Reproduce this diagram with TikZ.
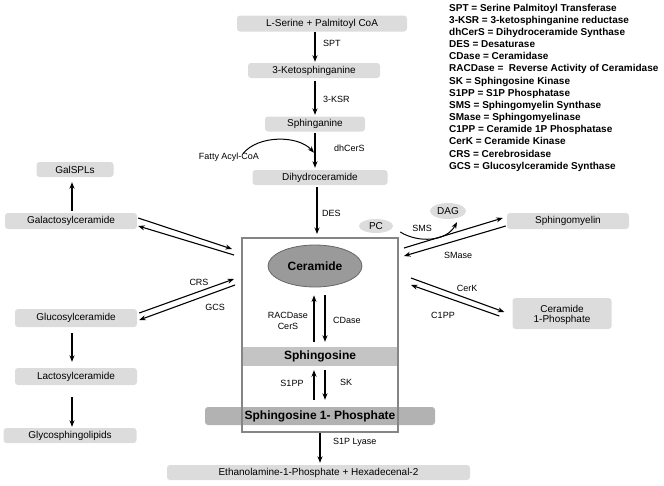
\documentclass[tikz,border=0pt]{standalone}
\usepackage{fontspec}
\setmainfont{Liberation Sans}
\usetikzlibrary{arrows.meta,shapes.geometric}
\definecolor{boxgray}{HTML}{DCDCDC}
\definecolor{sphgray}{HTML}{C4C4C4}
\definecolor{sopgray}{HTML}{B2B2B2}
\definecolor{cergray}{HTML}{9A9A9A}
\definecolor{cerline}{HTML}{666666}
\definecolor{frame}{HTML}{858585}
\newcommand\boxfont{\fontsize{10}{11}\selectfont}
\newcommand\enzfont{\fontsize{9}{10}\selectfont}
\newcommand\bigbold{\fontsize{12}{13}\selectfont\bfseries}
\newcommand\legfont{\fontsize{10}{12}\selectfont\bfseries}
\tikzset{
  lbox/.style={fill=boxgray, rounded corners=3pt, inner sep=0pt, font=\boxfont, align=center},
  arr/.style={-{Stealth[length=6.5pt,width=5pt]}, line width=1.1pt},
  thinarr/.style={-{Stealth[length=6.5pt,width=5pt]}, line width=1pt},
  enz/.style={font=\enzfont, inner sep=0pt},
  legline/.style={font=\legfont, inner sep=0pt, anchor=base west}
}
\begin{document}
\begin{tikzpicture}[x=1pt,y=-1pt]
\useasboundingbox (0,0) rectangle (664,485);
% main column boxes
\node[lbox, minimum width=170, minimum height=16] (ser) at (322,23.5) {L-Serine + Palmitoyl CoA};
\node[lbox, minimum width=132, minimum height=15] (ket) at (314,70.5) {3-Ketosphinganine};
\node[lbox, minimum width=100, minimum height=15] (sph) at (315,124) {Sphinganine};
\node[lbox, minimum width=135, minimum height=15] (dih) at (320,177.5) {Dihydroceramide};
% left boxes
\node[lbox, minimum width=77, minimum height=15] (galspl) at (75,169.5) {GalSPLs};
\node[lbox, minimum width=132, minimum height=16] (gal) at (71,221) {Galactosylceramide};
\node[lbox, minimum width=122, minimum height=18] (glc) at (76,318) {Glucosylceramide};
\node[lbox, minimum width=122, minimum height=17] (lac) at (76,376.5) {Lactosylceramide};
\node[lbox, minimum width=133, minimum height=15] (gly) at (70,435.5) {Glycosphingolipids};
% right boxes
\node[lbox, minimum width=122, minimum height=16] (smy) at (568,221) {Sphingomyelin};
\node[lbox, minimum width=99, minimum height=31, text depth=0pt] (c1p) at (562,313.5) {Ceramide\\[-1pt]1-Phosphate};
\node[lbox, minimum width=303, minimum height=15] (eth) at (318.5,472.5) {Ethanolamine-1-Phosphate + Hexadecenal-2};
% ellipses
\node[ellipse, fill=boxgray, minimum width=34, minimum height=14, inner sep=0pt, font=\boxfont] (pc) at (376,226) {PC};
\node[ellipse, fill=boxgray, minimum width=36, minimum height=16, inner sep=0pt, font=\boxfont] (dag) at (448,211) {DAG};
% central compartment
\node[ellipse, fill=cergray, draw=cerline, line width=0.8pt, minimum width=94, minimum height=42, inner sep=0pt, font=\bigbold] (cer) at (315,266) {Ceramide};
\node[fill=sphgray, minimum width=156, minimum height=19, inner sep=0pt, font=\bigbold] (sgo) at (320,356.5) {Sphingosine};
\node[fill=sopgray, rounded corners=3pt, minimum width=230, minimum height=18, inner sep=0pt, font=\bigbold] (s1p) at (320,416) {Sphingosine 1- Phosphate};
\node[draw=frame, line width=2pt, minimum width=156, minimum height=194, inner sep=0pt] (cbox) at (320,335) {};
% main vertical arrows
\draw[arr] ([shift={(-7,0.5)}]ser.south) -- ([shift={(1,-1)}]ket.north);
\draw[arr] ([shift={(1,3)}]ket.south) -- ([shift={(0,-1.5)}]sph.north);
\draw[arr] ([shift={(0,1.5)}]sph.south) -- ([shift={(-5,-2)}]dih.north);
\draw[arr] ([shift={(-3,2)}]dih.south) -- ([shift={(-3,-3)}]cbox.north);
\node[enz, anchor=west] (lspt) at (323,43.5) {SPT};
\node[enz, anchor=west] (lksr) at (323,99) {3-KSR};
\node[enz, anchor=west] (ldh) at (334,148) {dhCerS};
\node[enz, anchor=west] (ldes) at (322,213) {DES};
% fatty acyl CoA
\node[enz] (fat) at (229,157.5) {Fatty Acyl-CoA};
\draw[thinarr] ([shift={(14,0.5)}]fat.north) .. controls (258,135) and (298,135) .. ([shift={(-1,21)}]sph.south);
% ceramide <-> sphingosine
\draw[arr] ([shift={(-6,-5)}]sgo.north) -- ([shift={(-1,8)}]cer.south);
\draw[arr] ([shift={(10,8)}]cer.south) -- ([shift={(5,-5)}]sgo.north);
\node[enz] (lrac) at (288,315) {RACDase};
\node[enz] (lcers) at (288,326.5) {CerS};
\node[enz] (lcd) at (347,320) {CDase};
% sphingosine <-> S1P
\draw[arr] ([shift={(-6,-7)}]s1p.north) -- ([shift={(-6,4)}]sgo.south);
\draw[arr] ([shift={(5,4)}]sgo.south) -- ([shift={(5,-7)}]s1p.north);
\node[enz] (ls1pp) at (292,383) {S1PP};
\node[enz] (lsk) at (346,382) {SK};
% S1P lyase
\draw[arr] (cbox.south) -- ([shift={(1.5,-2)}]eth.north);
\node[enz, anchor=west] (llya) at (333,442) {S1P Lyase};
% left side
\draw[arr] ([shift={(1,-2)}]gal.north) -- ([shift={(-3,5)}]galspl.south);
\draw[arr] ([shift={(1,-3)}]gal.east) -- ([shift={(-9,12)}]cbox.north west);
\draw[arr] ([shift={(-7,18)}]cbox.north west) -- ([shift={(1,5)}]gal.east);
\draw[arr] ([shift={(2,-5)}]glc.east) -- ([shift={(-7,42)}]cbox.north west);
\draw[arr] ([shift={(-6,48)}]cbox.north west) -- ([shift={(2,2)}]glc.east);
\node[enz] (lcrs) at (199,282) {CRS};
\node[enz] (lgcs) at (215,307.5) {GCS};
\draw[arr] ([shift={(-4,6)}]glc.south) -- ([shift={(-4,-6)}]lac.north);
\draw[arr] ([shift={(-4,12)}]lac.south) -- ([shift={(2,-1)}]gly.north);
% right side
\draw[thinarr] ([shift={(7,6)}]pc.east) .. controls (418,243) and (446,242) .. ([shift={(9,3)}]dag.south);
\node[enz] (lsms) at (422,228.5) {SMS};
\draw[arr] ([shift={(5,11)}]cbox.north east) -- ([shift={(-4,-3)}]smy.west);
\draw[arr] ([shift={(-1,5)}]smy.west) -- ([shift={(5,19)}]cbox.north east);
\node[enz] (lsmase) at (458,255) {SMase};
\draw[arr] ([shift={(12,41)}]cbox.north east) -- ([shift={(-8,-1.5)}]c1p.west);
\draw[arr] ([shift={(-13,2.5)}]c1p.west) -- ([shift={(12,48)}]cbox.north east);
\node[enz] (lcerk) at (467,288) {CerK};
\node[enz] (lc1pp) at (443,315.5) {C1PP};
% legend
\foreach \t [count=\i from 0] in {SPT = Serine Palmitoyl Transferase,
  3-KSR = 3-ketosphinganine reductase,
  dhCerS = Dihydroceramide Synthase,
  DES = Desaturase,
  CDase = Ceramidase,
  RACDase =\ \ Reverse Activity of Ceramidase,
  SK = Sphingosine Kinase,
  S1PP = S1P Phosphatase,
  SMS = Sphingomyelin Synthase,
  SMase = Sphingomyelinase,
  C1PP = Ceramide 1P Phosphatase,
  CerK = Ceramide Kinase,
  CRS = Cerebrosidase,
  GCS = Glucosylceramide Synthase}
  \node[legline] (leg\i) at (449,{11+12.18*\i}) {\t};
\end{tikzpicture}
\end{document}
